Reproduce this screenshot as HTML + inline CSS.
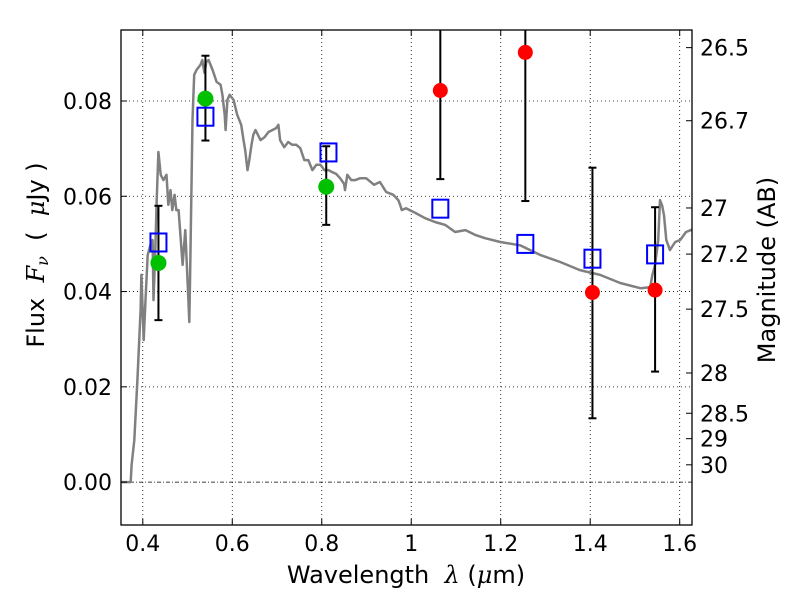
<!DOCTYPE html>
<html><head><meta charset="utf-8"><style>
body{margin:0;background:#fff;font-family:"Liberation Sans","DejaVu Sans",sans-serif}
svg text{font-family:"DejaVu Sans","Liberation Sans",sans-serif;white-space:pre}
</style></head><body>
<svg id="c" width="800" height="600" viewBox="0 0 800 600"></svg>
<script>
const specWl=[0.352,0.373,0.375,0.381,0.388,0.395,0.397,0.402,0.406,0.411,0.417,0.422,0.424,0.428,0.431,0.435,0.440,0.446,0.453,0.457,0.462,0.466,0.471,0.475,0.480,0.484,0.489,0.495,0.502,0.504,0.506,0.511,0.515,0.520,0.529,0.533,0.538,0.542,0.547,0.556,0.565,0.574,0.578,0.583,0.585,0.589,0.594,0.603,0.611,0.620,0.625,0.629,0.634,0.638,0.643,0.647,0.652,0.663,0.672,0.681,0.690,0.698,0.703,0.707,0.716,0.725,0.734,0.743,0.752,0.761,0.770,0.779,0.788,0.797,0.806,0.815,0.823,0.832,0.841,0.850,0.852,0.857,0.866,0.875,0.886,0.899,0.917,0.930,0.944,0.960,0.971,0.975,0.979,0.988,1.009,1.031,1.053,1.076,1.098,1.121,1.143,1.165,1.199,1.243,1.288,1.333,1.377,1.422,1.467,1.512,1.534,1.539,1.545,1.552,1.556,1.561,1.565,1.570,1.574,1.578,1.590,1.601,1.614,1.628];
const specFlux=[0,0,0.0036,0.0088,0.0214,0.0361,0.0435,0.0298,0.0382,0.0477,0.0498,0.0508,0.0382,0.0487,0.0592,0.0693,0.0645,0.0634,0.0645,0.0582,0.0613,0.0571,0.0603,0.0571,0.0571,0.0519,0.0456,0.0529,0.0382,0.0336,0.0445,0.0760,0.0855,0.0865,0.0876,0.0886,0.0859,0.0882,0.0886,0.0865,0.0840,0.0834,0.0813,0.0771,0.0739,0.0802,0.0813,0.0802,0.0771,0.0750,0.0718,0.0697,0.0655,0.0676,0.0708,0.0729,0.0739,0.0718,0.0724,0.0735,0.0739,0.0743,0.0750,0.0718,0.0703,0.0714,0.0708,0.0708,0.0701,0.0676,0.0676,0.0655,0.0666,0.0666,0.0655,0.0655,0.0651,0.0647,0.0638,0.0626,0.0613,0.0645,0.0634,0.0634,0.0638,0.0638,0.0624,0.0630,0.0609,0.0603,0.0592,0.0582,0.0571,0.0575,0.0565,0.0554,0.0546,0.0540,0.0525,0.0529,0.0519,0.0512,0.0504,0.0497,0.0477,0.0462,0.0445,0.0435,0.0418,0.0407,0.0409,0.0435,0.0456,0.0508,0.0592,0.0580,0.0560,0.0508,0.0498,0.0487,0.0504,0.0508,0.0525,0.0530];
const greenWl=[0.435,0.54,0.81];
const greenFlux=[0.046,0.0805,0.062];
const greenLo=[0.034,0.0717,0.054];
const greenHi=[0.058,0.0895,0.0705];
const redWl=[1.065,1.255,1.405,1.545];
const redFlux=[0.0822,0.0902,0.0398,0.0403];
const redLo=[0.0636,0.059,0.0134,0.0232];
const redHi=[0.11,0.11,0.066,0.0577];
const modelWl=[0.435,0.54,0.815,1.065,1.255,1.405,1.545];
const modelFlux=[0.0503,0.0767,0.0692,0.0574,0.0500,0.0469,0.0478];
const xTicks=[0.4,0.6,0.8,1.0,1.2,1.4,1.6];
const xTickLabels=["0.4","0.6","0.8","1","1.2","1.4","1.6"];
const yTicks=[0,0.02,0.04,0.06,0.08];
const yTickLabels=["0.00","0.02","0.04","0.06","0.08"];
const magTicks=[26.5,26.7,27,27.2,27.5,28,28.5,29,30];
const magTickLabels=["26.5","26.7","27","27.2","27.5","28","28.5","29","30"];

const L=121,R=692,T=30,B=525,X0=0.3513,X1=1.6275,Y0=-0.0090,Y1=0.0949;
const sx=v=>L+(v-X0)/(X1-X0)*(R-L);
const sy=v=>B-(v-Y0)/(Y1-Y0)*(B-T);
const NS="http://www.w3.org/2000/svg";
const svg=document.getElementById('c');
function mk(tag,at,parent){const e=document.createElementNS(NS,tag);for(const k in at)e.setAttribute(k,at[k]);(parent||svg).appendChild(e);return e;}
const defs=mk('defs',{});
const cp=mk('clipPath',{id:'clip'},defs);mk('rect',{x:L,y:T,width:R-L,height:B-T},cp);

xTicks.forEach(t=>{const g=mk('line',{x1:sx(t),x2:sx(t),y1:T,y2:B,stroke:'#000','stroke-width':0.8,'stroke-dasharray':'1,3'});

});
yTicks.forEach(t=>{if(t===0)return;const g=mk('line',{x1:L,x2:R,y1:sy(t),y2:sy(t),stroke:'#000','stroke-width':0.8,'stroke-dasharray':'1,3'});

});
const zl=mk('line',{x1:L,x2:R,y1:sy(0),y2:sy(0),stroke:'#000','stroke-width':0.8,'stroke-dasharray':'4,2,1,2'});



const gp=mk('g',{'clip-path':'url(#clip)'});
let d=specWl.map((w,i)=>(i?'L':'M')+sx(w).toFixed(1)+','+sy(specFlux[i]).toFixed(1)).join('');
const sp=mk('path',{d:d,fill:'none',stroke:'#808080','stroke-width':2.5,'stroke-linejoin':'round'},gp);



function errbars(wl,lo,hi,name){wl.forEach((w,i)=>{const x=sx(w);
const l=mk('line',{x1:x,x2:x,y1:sy(lo[i]),y2:sy(hi[i]),stroke:'#000','stroke-width':2},gp);


[lo[i],hi[i]].forEach(v=>{const c=mk('line',{x1:x-4,x2:x+4,y1:sy(v),y2:sy(v),stroke:'#000','stroke-width':2},gp);

});});}
errbars(greenWl,greenLo,greenHi,'detection-errorbar');
errbars(redWl,redLo,redHi,'upper-limit-errorbar');
greenWl.forEach((w,i)=>{const c=mk('circle',{cx:sx(w),cy:sy(greenFlux[i]),r:8,fill:'#00c000'},gp);

});
redWl.forEach((w,i)=>{const c=mk('circle',{cx:sx(w),cy:sy(redFlux[i]),r:7.5,fill:'#ff0000'},gp);

});
modelWl.forEach((w,i)=>{const r=mk('rect',{x:sx(w)-8,y:sy(modelFlux[i])-9,width:16,height:18,fill:'none',stroke:'#0000ff','stroke-width':2},gp);

});

const fr=mk('rect',{x:L,y:T,width:R-L,height:B-T,fill:'none',stroke:'#000','stroke-width':1.3});


xTicks.forEach((t,i)=>{const x=sx(t);mk('line',{x1:x,x2:x,y1:B,y2:B-6,stroke:'#000'});mk('line',{x1:x,x2:x,y1:T,y2:T+6,stroke:'#000'});
const tx=mk('text',{x:x,y:B+26,'font-size':22,'text-anchor':'middle'});tx.textContent=xTickLabels[i];

});
yTicks.forEach((t,i)=>{const y=sy(t);mk('line',{x1:L,x2:L+6,y1:y,y2:y,stroke:'#000'});
const tx=mk('text',{x:L-9,y:y+8,'font-size':22,'text-anchor':'end'});tx.textContent=yTickLabels[i];

});
magTicks.forEach((m,i)=>{const y=sy(Math.pow(10,(23.9-m)/2.5));mk('line',{x1:R-6,x2:R,y1:y,y2:y,stroke:'#000'});
const tx=mk('text',{x:R+8,y:y+8,'font-size':22});tx.textContent=magTickLabels[i];

});
</script>
<svg width="800" height="600" style="position:absolute;left:0;top:0">
<text x="406" y="583" font-size="24" text-anchor="middle" font-family="DejaVu Sans,sans-serif">Wavelength  <tspan font-style="italic" font-family="DejaVu Serif,serif">λ</tspan> (<tspan font-style="italic" font-family="DejaVu Serif,serif">μ</tspan>m)</text>
<text transform="translate(44,255) rotate(-90)" font-size="24" text-anchor="middle" font-family="DejaVu Sans,sans-serif">Flux  <tspan font-style="italic" font-family="DejaVu Serif,serif">F</tspan><tspan font-style="italic" font-family="DejaVu Serif,serif" font-size="16" dy="4">ν</tspan><tspan dy="-4">  (  </tspan><tspan font-style="italic" font-family="DejaVu Serif,serif">μ</tspan>Jy )</text>
<text transform="translate(775,270) rotate(-90)" font-size="24" text-anchor="middle" font-family="DejaVu Sans,sans-serif">Magnitude (AB)</text>
</svg>
</body></html>
